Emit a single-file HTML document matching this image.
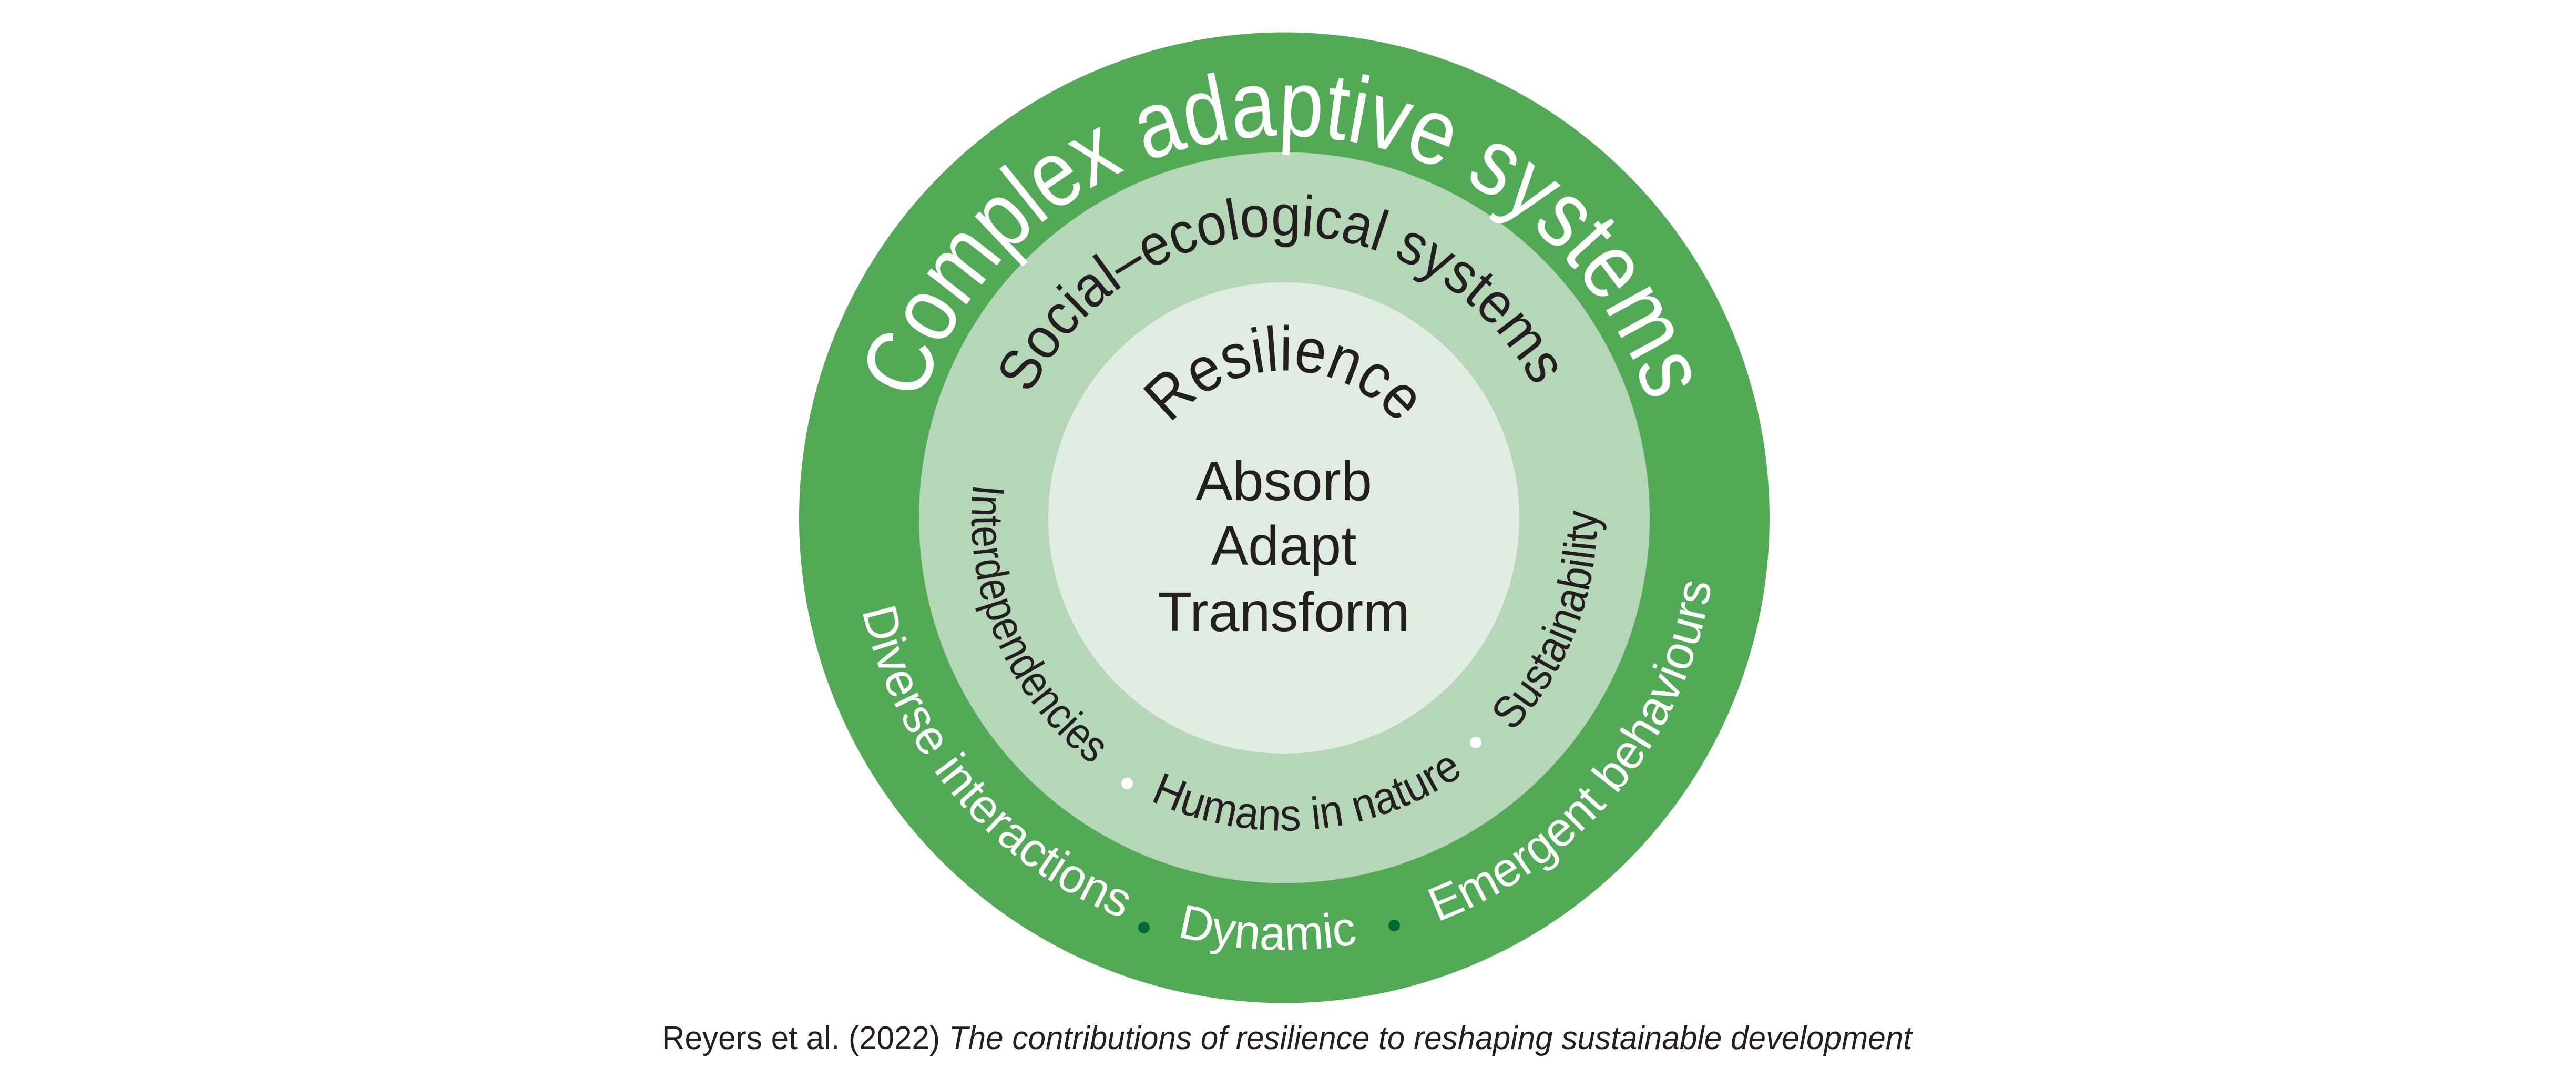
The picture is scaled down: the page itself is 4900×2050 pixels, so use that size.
<!DOCTYPE html>
<html><head><meta charset="utf-8">
<style>
html,body{margin:0;padding:0;background:#fff;}
svg{display:block;}
</style></head>
<body>
<svg width="4900" height="2050" viewBox="0 0 4900 2050" xmlns="http://www.w3.org/2000/svg" font-family="'Liberation Sans', Arial, sans-serif">
<defs>
  <path id="topOuter" d="M 1717 984.5 A 726 726 0 1 1 3169 984.5"/>
  <path id="topMid" d="M 1906 984.5 A 537 537 0 1 1 2980 984.5"/>
  <path id="topIn" d="M 2163 984.5 A 280 280 0 1 1 2723 984.5"/>
  <path id="botMid" d="M 2443 389.5 A 595 595 0 1 0 2443 1579.5 A 595 595 0 1 0 2443 389.5"/>
  <path id="botOut" d="M 2443 162.5 A 822 822 0 1 0 2443 1806.5 A 822 822 0 1 0 2443 162.5"/>
</defs>
<circle cx="2443" cy="984.5" r="923" fill="#52a956"/>
<circle cx="2443" cy="984.5" r="695" fill="#b6d6b8"/>
<circle cx="2442" cy="985" r="448" fill="#e1ede2"/>

<text font-size="180" fill="#ffffff"><textPath href="#topOuter" startOffset="50%" text-anchor="middle" textLength="1838" lengthAdjust="spacingAndGlyphs">Complex adaptive systems</textPath></text>
<text font-size="110" fill="#231f20"><textPath href="#topMid" startOffset="49.5%" text-anchor="middle" textLength="1187" lengthAdjust="spacingAndGlyphs">Social–ecological systems</textPath></text>
<text font-size="120" fill="#231f20"><textPath href="#topIn" startOffset="50%" text-anchor="middle" textLength="496" lengthAdjust="spacingAndGlyphs">Resilience</textPath></text>

<g font-size="106" fill="#231f20" text-anchor="middle">
  <text x="2442" y="951">Absorb</text>
  <text x="2442" y="1074">Adapt</text>
  <text x="2442" y="1200">Transform</text>
</g>

<g font-size="86" fill="#231f20">
  <text><textPath href="#botMid" startOffset="1173" text-anchor="middle" textLength="606" lengthAdjust="spacingAndGlyphs">Interdependencies</textPath></text>
  <text><textPath href="#botMid" startOffset="1919" text-anchor="middle" textLength="628" lengthAdjust="spacingAndGlyphs">Humans in nature</textPath></text>
  <text><textPath href="#botMid" startOffset="2586" text-anchor="middle" textLength="462" lengthAdjust="spacingAndGlyphs">Sustainability</textPath></text>
</g>
<circle cx="2144" cy="1490" r="11" fill="#ffffff"/>
<circle cx="2807" cy="1412" r="11" fill="#ffffff"/>

<g font-size="92" fill="#ffffff">
  <text><textPath href="#botOut" startOffset="1868" text-anchor="middle" textLength="798" lengthAdjust="spacingAndGlyphs">Diverse interactions</textPath></text>
  <text><textPath href="#botOut" startOffset="2549" text-anchor="middle" textLength="347" lengthAdjust="spacingAndGlyphs">Dynamic</textPath></text>
  <text><textPath href="#botOut" startOffset="3314" text-anchor="middle" textLength="869" lengthAdjust="spacingAndGlyphs">Emergent behaviours</textPath></text>
</g>
<circle cx="2176" cy="1764" r="11" fill="#006a35"/>
<circle cx="2652" cy="1760" r="11" fill="#006a35"/>

<text x="1259" y="1995" font-size="62" fill="#231f20" textLength="2378" lengthAdjust="spacingAndGlyphs">Reyers et al. (2022) <tspan font-style="italic">The contributions of resilience to reshaping sustainable development</tspan></text>
</svg>
</body></html>
